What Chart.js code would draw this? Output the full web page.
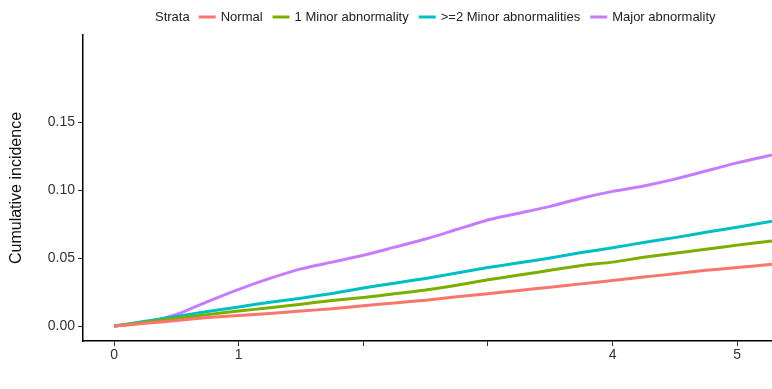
<!DOCTYPE html>
<html>
<head>
<meta charset="utf-8">
<script src="https://cdn.jsdelivr.net/npm/chart.js@4.4.1/dist/chart.umd.min.js"></script>
<style>
  html, body { margin: 0; padding: 0; background: #fff; }
  #wrap { width: 772px; height: 389px; position: relative; }
</style>
</head>
<body>
<div id="wrap"><canvas id="c" width="772" height="389"></canvas></div>
<script>
// ---- data ----
const legendTitle = "Strata";
const seriesNames = ["Normal", "1 Minor abnormality", ">=2 Minor abnormalities", "Major abnormality"];
const seriesColors = ["#F8766D", "#7CAE00", "#00BFC4", "#C77CFF"];
const timeYears = [0, 0.25, 0.5, 0.75, 1.0, 1.25, 1.5, 1.75, 2.0, 2.25, 2.5, 2.75, 3.0, 3.25, 3.5, 3.75, 4.0, 4.25, 4.5, 4.75, 5.0, 5.28];
const normal = [0, 0.002, 0.004, 0.0062, 0.0077, 0.0092, 0.011, 0.0128, 0.015, 0.017, 0.019, 0.0215, 0.0238, 0.0262, 0.0285, 0.031, 0.0335, 0.036, 0.0385, 0.041, 0.043, 0.0454];
const minor1 = [0, 0.0028, 0.0057, 0.0084, 0.011, 0.0135, 0.016, 0.0188, 0.021, 0.0237, 0.0265, 0.030, 0.034, 0.0375, 0.041, 0.0445, 0.047, 0.0505, 0.0535, 0.0565, 0.0595, 0.0625];
const minor2plus = [0, 0.0035, 0.007, 0.0107, 0.014, 0.0175, 0.0205, 0.024, 0.028, 0.0315, 0.035, 0.039, 0.043, 0.0465, 0.050, 0.054, 0.0575, 0.0615, 0.065, 0.069, 0.0727, 0.077];
const major = [0, 0.0028, 0.0085, 0.018, 0.027, 0.035, 0.042, 0.047, 0.052, 0.058, 0.064, 0.071, 0.078, 0.083, 0.088, 0.094, 0.099, 0.103, 0.108, 0.114, 0.120, 0.1257];
const xTicks = [0, 1, 2, 3, 4, 5];
const xTickLabels = ["0", "1", "", "", "4", "5"];
const yTicks = [0, 0.05, 0.10, 0.15];
const yTickLabels = ["0.00", "0.05", "0.10", "0.15"];
const yTitle = "Cumulative incidence";

const seriesValues = [normal, minor1, minor2plus, major];

const datasets = seriesValues.map((vals, i) => ({
  label: seriesNames[i],
  data: timeYears.map((t, j) => ({ x: t, y: vals[j] })),
  borderColor: seriesColors[i],
  backgroundColor: seriesColors[i],
  borderWidth: 3,
  pointRadius: 0,
  tension: 0.2,
  fill: false
}));

const FONT = "'Liberation Sans', Arial, sans-serif";

const legendPlugin = {
  id: 'topLegend',
  afterDraw(chart) {
    const ctx = chart.ctx;
    ctx.save();
    ctx.font = "13px " + FONT;
    ctx.fillStyle = "#222";
    ctx.textBaseline = "middle";
    const y = 17;
    let x = 155;
    ctx.fillText(legendTitle, x, y);
    x += ctx.measureText(legendTitle).width + 9;
    seriesNames.forEach((name, i) => {
      ctx.strokeStyle = seriesColors[i];
      ctx.lineWidth = 3;
      ctx.beginPath();
      ctx.moveTo(x, y);
      ctx.lineTo(x + 17, y);
      ctx.stroke();
      x += 22;
      ctx.fillText(name, x, y);
      x += ctx.measureText(name).width + 10;
    });
    ctx.restore();
  }
};

new Chart(document.getElementById('c'), {
  type: 'line',
  data: { datasets },
  plugins: [legendPlugin],
  options: {
    responsive: false,
    animation: false,
    layout: { padding: { top: 35, left: 0, right: 0, bottom: 0 } },
    plugins: { legend: { display: false }, tooltip: { enabled: false } },
    scales: {
      x: {
        type: 'linear',
        min: -0.25,
        max: 5.28,
        afterBuildTicks(scale) { scale.ticks = xTicks.map(v => ({ value: v })); },
        afterFit(scale) { scale.height = 48; },
        ticks: {
          callback: (v) => { const k = xTicks.indexOf(v); return k >= 0 ? xTickLabels[k] : ''; },
          color: '#333',
          font: { family: FONT, size: 14 },
          padding: 1,
          maxRotation: 0,
          autoSkip: false
        },
        grid: { drawOnChartArea: false, drawTicks: true, tickLength: 5, color: '#333', lineWidth: 1 },
        border: { display: true, color: '#000', width: 1.5 }
      },
      y: {
        type: 'linear',
        min: -0.011,
        max: 0.214,
        afterBuildTicks(scale) { scale.ticks = yTicks.map(v => ({ value: v })); },
        afterFit(scale) { scale.width = 83; },
        ticks: {
          callback: (v) => { const k = yTicks.findIndex(t => Math.abs(t - v) < 1e-9); return k >= 0 ? yTickLabels[k] : ''; },
          color: '#333',
          font: { family: FONT, size: 14 },
          padding: 3
        },
        grid: { drawOnChartArea: false, drawTicks: true, tickLength: 5, color: '#333', lineWidth: 1 },
        border: { display: true, color: '#000', width: 1.5 },
        title: {
          display: true,
          text: yTitle,
          color: '#111',
          font: { family: FONT, size: 16 },
          padding: { top: 7, bottom: 0 }
        }
      }
    }
  }
});
</script>
</body>
</html>
